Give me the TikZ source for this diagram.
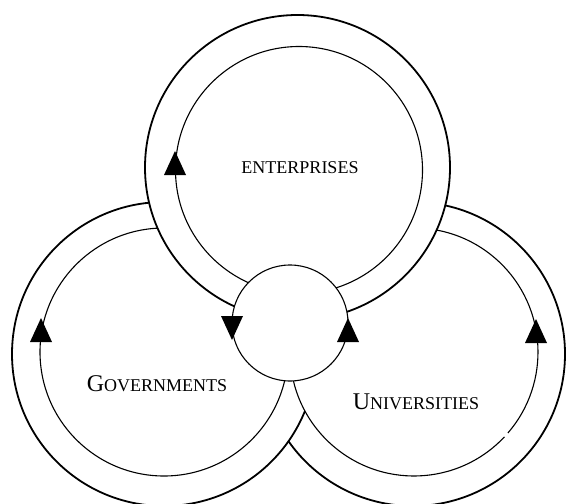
\documentclass[tikz,border=0pt]{standalone}
\usepackage{fontspec}
\setmainfont{Liberation Serif}
\newcommand\capbig[1]{{\fontsize{24}{24}\selectfont #1}}
\newcommand\capsmall[1]{{\fontsize{18}{18}\selectfont #1}}
\begin{document}
\begin{tikzpicture}[x=1pt,y=-1pt,
  outerring/.style={draw=black,line width=1.8pt,fill=white},
  innerring/.style={draw=black,line width=1.1pt,fill=white},
  hub/.style={draw=black,line width=1.1pt,fill=white},
  label/.style={anchor=base,inner sep=0pt,text=black}]
\useasboundingbox (0,0) rectangle (567,503);
\fill[white] (0,0) rectangle (567,503);

% right ring (outer edge lies beneath the left disk)
\draw[outerring] (413,354) circle[radius=152];

% left ring
\draw[outerring] (164,354) circle[radius=152];
\draw[innerring] (164,352) circle[radius=124];

% inner disk of the right ring, with its small break at lower right
\fill[white] (414,352) circle[radius=124];
\draw[line width=1.1pt] (414,352) ++(43.2:124) arc[start angle=43.2,end angle=400.8,radius=124];

% top ring
\draw[outerring] (297.5,167.5) circle[radius=152.5];
\draw[innerring] (299,170) circle[radius=123.5];

% central hub
\draw[hub] (290,323) circle[radius=58];

% direction marks
\fill (175,163) +(0,-12) -- +(-11,12) -- +(11,12) -- cycle;
\fill (41,330) +(0,-12) -- +(-11,12) -- +(11,12) -- cycle;
\fill (232,328) +(0,12) -- +(-11,-12) -- +(11,-12) -- cycle;
\fill (348,330) +(0,-12) -- +(-11,12) -- +(11,12) -- cycle;
\fill (536,331) +(0,-12) -- +(-11,12) -- +(11,12) -- cycle;

% labels
\node[label] (ent) at (300,173) {\capsmall{ENTERPRISES}};
\node[label] (gov) at (157,391) {\capbig{G}\capsmall{OVERNMENTS}};
\node[label] (uni) at (416,409) {\capbig{U}\capsmall{NIVERSITIES}};
\end{tikzpicture}
\end{document}
